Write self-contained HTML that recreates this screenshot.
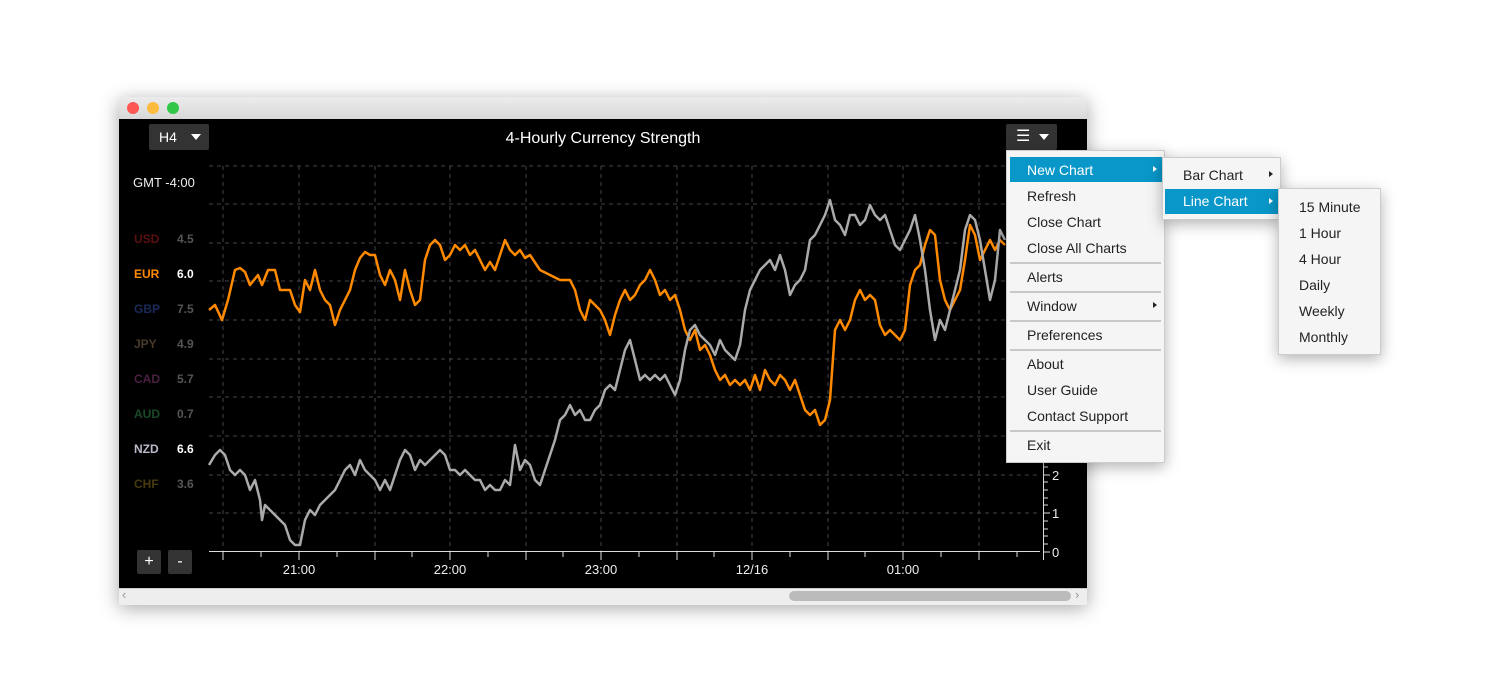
<!DOCTYPE html>
<html><head><meta charset="utf-8"><style>
body{margin:0;width:1500px;height:700px;background:#fff;position:relative;overflow:hidden;font-family:"Liberation Sans",sans-serif}
.a{position:absolute}
.win{left:119px;top:97px;width:968px;height:507px;box-shadow:0 4px 18px rgba(0,0,0,.35);background:#000}
.tb{left:0;top:0;width:968px;height:22px;background:linear-gradient(#ececec,#d8d8d8)}
.dot{width:12px;height:12px;border-radius:50%;top:5px}
.menu{background:#f5f5f5;border:1px solid #ccc;box-shadow:0 4px 14px rgba(0,0,0,.3);font-size:14px;color:#222}
.it{position:absolute;left:20px;height:26px;line-height:26px}
.sep{position:absolute;left:3px;right:3px;height:2px;background:#c8c8c8}
.hl{position:absolute;background:#0997c9;color:#fff}
</style></head><body>
<div class="a win">
 <div class="a tb"></div>
 <div class="a dot" style="left:8px;background:#fc5753"></div>
 <div class="a dot" style="left:28px;background:#fdbc40"></div>
 <div class="a dot" style="left:48px;background:#33c748"></div>
 <div class="a" style="left:0;top:491px;width:968px;height:16px;background:#eee;border-top:1px solid #ccc"></div>
 <div class="a" style="left:670px;top:494px;width:282px;height:10px;border-radius:5px;background:#bbb"></div>
 <div class="a" style="left:3px;top:490px;color:#999;font-size:13px">‹</div>
 <div class="a" style="left:956px;top:490px;color:#999;font-size:13px">›</div>
</div>
<svg class="a" style="left:0;top:0" width="1500" height="700">
 <g stroke="#444" stroke-dasharray="4,4" stroke-width="1">
  <line x1="209" x2="1040" y1="166" y2="166"/><line x1="209" x2="1040" y1="204" y2="204"/><line x1="209" x2="1040" y1="243" y2="243"/><line x1="209" x2="1040" y1="281" y2="281"/><line x1="209" x2="1040" y1="320" y2="320"/><line x1="209" x2="1040" y1="359" y2="359"/><line x1="209" x2="1040" y1="397" y2="397"/><line x1="209" x2="1040" y1="436" y2="436"/><line x1="209" x2="1040" y1="475" y2="475"/><line x1="209" x2="1040" y1="513" y2="513"/>
  <line x1="223" x2="223" y1="166" y2="552"/><line x1="299" x2="299" y1="166" y2="552"/><line x1="375" x2="375" y1="166" y2="552"/><line x1="450" x2="450" y1="166" y2="552"/><line x1="526" x2="526" y1="166" y2="552"/><line x1="601" x2="601" y1="166" y2="552"/><line x1="677" x2="677" y1="166" y2="552"/><line x1="752" x2="752" y1="166" y2="552"/><line x1="828" x2="828" y1="166" y2="552"/><line x1="903" x2="903" y1="166" y2="552"/><line x1="979" x2="979" y1="166" y2="552"/>
 </g>
 <g stroke="#ddd" stroke-width="1">
  <line x1="209" x2="1040" y1="551.5" y2="551.5"/>
  <line x1="223" x2="223" y1="552" y2="560"/><line x1="261" x2="261" y1="552" y2="557"/><line x1="299" x2="299" y1="552" y2="560"/><line x1="337" x2="337" y1="552" y2="557"/><line x1="375" x2="375" y1="552" y2="560"/><line x1="412" x2="412" y1="552" y2="557"/><line x1="450" x2="450" y1="552" y2="560"/><line x1="488" x2="488" y1="552" y2="557"/><line x1="526" x2="526" y1="552" y2="560"/><line x1="563" x2="563" y1="552" y2="557"/><line x1="601" x2="601" y1="552" y2="560"/><line x1="639" x2="639" y1="552" y2="557"/><line x1="677" x2="677" y1="552" y2="560"/><line x1="714" x2="714" y1="552" y2="557"/><line x1="752" x2="752" y1="552" y2="560"/><line x1="790" x2="790" y1="552" y2="557"/><line x1="828" x2="828" y1="552" y2="560"/><line x1="865" x2="865" y1="552" y2="557"/><line x1="903" x2="903" y1="552" y2="560"/><line x1="941" x2="941" y1="552" y2="557"/><line x1="979" x2="979" y1="552" y2="560"/><line x1="1017" x2="1017" y1="552" y2="557"/>
  <line x1="1043.5" x2="1043.5" y1="166" y2="560"/>
  <line x1="1043" x2="1050" y1="552" y2="552"/><line x1="1043" x2="1048" y1="544" y2="544"/><line x1="1043" x2="1048" y1="536" y2="536"/><line x1="1043" x2="1048" y1="529" y2="529"/><line x1="1043" x2="1048" y1="521" y2="521"/><line x1="1043" x2="1050" y1="513" y2="513"/><line x1="1043" x2="1048" y1="505" y2="505"/><line x1="1043" x2="1048" y1="498" y2="498"/><line x1="1043" x2="1048" y1="490" y2="490"/><line x1="1043" x2="1048" y1="482" y2="482"/><line x1="1043" x2="1050" y1="475" y2="475"/><line x1="1043" x2="1048" y1="467" y2="467"/>
 </g>
 <g fill="#eee" font-size="13" font-family="Liberation Sans,sans-serif">
  <text x="1052" y="557">0</text><text x="1052" y="518">1</text><text x="1052" y="480">2</text>
  <text x="299" y="574" text-anchor="middle">21:00</text><text x="450" y="574" text-anchor="middle">22:00</text><text x="601" y="574" text-anchor="middle">23:00</text><text x="752" y="574" text-anchor="middle">12/16</text><text x="903" y="574" text-anchor="middle">01:00</text>
  <text x="603" y="143" text-anchor="middle" font-size="16" fill="#fff">4-Hourly Currency Strength</text>
  <text x="133" y="187" font-size="13">GMT -4:00</text>
 </g>
 <polyline fill="none" stroke="#ff8a00" stroke-width="2.5" stroke-linejoin="round" points="209,310 215,305 222,320 228,300 235,270 240,268 245,272 250,285 258,275 262,285 268,270 275,270 280,290 290,290 295,305 300,312 305,280 310,290 315,270 320,290 325,300 330,305 335,325 340,310 345,300 350,290 355,270 360,258 365,252 370,255 375,255 380,275 385,285 390,270 395,280 400,300 405,270 410,290 415,305 420,300 425,260 430,245 435,240 440,245 445,260 450,255 455,245 460,250 465,245 470,255 475,250 480,260 485,270 490,262 495,270 500,255 505,240 510,250 515,255 520,250 525,258 530,255 540,270 550,275 560,280 570,280 575,290 580,310 585,320 590,300 595,305 600,310 605,320 610,335 615,315 620,300 625,290 630,300 635,295 640,285 645,280 650,270 655,280 660,295 665,290 670,300 675,295 680,310 685,330 690,340 695,330 700,350 705,345 710,355 715,370 720,380 725,375 730,385 735,380 740,385 745,380 750,390 755,375 760,390 765,370 770,380 775,385 780,375 785,380 790,390 795,380 800,395 805,410 810,415 815,410 820,425 825,420 830,400 835,330 840,320 845,330 850,320 855,300 860,290 865,300 870,295 875,300 880,325 885,335 890,330 895,335 900,340 905,330 910,285 915,270 920,265 925,245 930,230 935,235 940,280 945,300 950,310 955,300 960,290 965,260 970,225 975,235 980,260 985,250 990,240 995,250 1000,240 1005,245"/>
 <polyline fill="none" stroke="#aaa" stroke-width="2.5" stroke-linejoin="round" points="209,465 215,455 220,450 225,455 230,470 235,475 240,470 245,475 250,490 255,480 260,500 262,520 265,505 270,510 275,515 280,520 285,525 290,540 295,545 300,545 305,520 310,510 315,515 320,505 325,500 330,495 335,490 340,480 345,470 350,465 355,475 360,460 365,470 370,475 375,480 380,490 385,480 390,490 395,475 400,460 405,450 410,455 415,470 420,460 425,465 430,460 435,455 440,450 445,455 450,470 455,470 460,475 465,470 470,475 475,480 480,480 485,490 490,485 495,490 500,490 505,480 510,485 515,445 520,470 525,460 530,465 535,480 540,485 545,470 550,455 555,440 560,420 565,415 570,405 575,415 580,410 585,420 590,420 595,410 600,405 605,390 610,385 615,390 620,370 625,350 630,340 635,360 640,380 645,375 650,380 655,375 660,380 665,375 670,385 675,395 680,380 685,350 690,330 695,325 700,335 705,340 710,345 715,355 720,340 725,350 730,355 735,360 740,345 745,310 750,290 755,280 760,270 765,265 770,260 775,270 780,255 785,270 790,295 795,285 800,280 805,270 810,240 815,235 820,225 825,215 830,200 835,220 840,225 845,235 850,215 855,215 860,225 865,220 870,205 875,215 880,220 885,215 890,230 895,245 900,250 905,240 910,230 915,215 920,240 925,270 930,310 935,340 940,320 945,330 950,310 955,290 960,270 965,230 970,215 975,220 980,240 985,270 990,300 995,280 1000,230 1005,240"/>
 <g font-size="12" font-weight="bold" font-family="Liberation Sans,sans-serif">
  <text x="134" y="243" fill="#5a1010">USD</text><text x="177" y="243" fill="#555">4.5</text>
  <text x="134" y="278" fill="#ff8a00">EUR</text><text x="177" y="278" fill="#fff">6.0</text>
  <text x="134" y="313" fill="#1c2a5a">GBP</text><text x="177" y="313" fill="#555">7.5</text>
  <text x="134" y="348" fill="#4a3a2a">JPY</text><text x="177" y="348" fill="#555">4.9</text>
  <text x="134" y="383" fill="#4a2040">CAD</text><text x="177" y="383" fill="#555">5.7</text>
  <text x="134" y="418" fill="#1a4a2a">AUD</text><text x="177" y="418" fill="#555">0.7</text>
  <text x="134" y="453" fill="#bbc">NZD</text><text x="177" y="453" fill="#fff">6.6</text>
  <text x="134" y="488" fill="#4a3a10">CHF</text><text x="177" y="488" fill="#555">3.6</text>
 </g>
</svg>
<div class="a" style="left:149px;top:124px;width:60px;height:26px;background:#333;border-radius:2px;color:#fff;font-size:14px;line-height:26px"><span style="margin-left:10px">H4</span><span style="position:absolute;left:42px;top:10px;border:5px solid transparent;border-top:6px solid #fff;border-bottom:0"></span></div>
<div class="a" style="left:1006px;top:124px;width:51px;height:26px;background:#333;border-radius:2px;color:#fff;font-size:16px;line-height:26px"><span style="margin-left:10px">☰</span><span style="position:absolute;left:33px;top:10px;border:5px solid transparent;border-top:6px solid #fff;border-bottom:0"></span></div>
<div class="a" style="left:137px;top:550px;width:24px;height:24px;background:#333;border-radius:2px;color:#fff;text-align:center;line-height:24px;font-size:16px">+</div>
<div class="a" style="left:168px;top:550px;width:24px;height:24px;background:#333;border-radius:2px;color:#fff;text-align:center;line-height:24px;font-size:16px">-</div>

<div class="a menu" style="left:1006px;top:150px;width:157px;height:311px">
 <div class="hl" style="left:3px;top:6px;width:152px;height:25px"></div>
 <div class="it" style="top:6px;color:#fff">New Chart</div><div class="a" style="left:146px;top:15px;border:3px solid transparent;border-left:4px solid #fff;border-right:0"></div>
 <div class="it" style="top:32px">Refresh</div>
 <div class="it" style="top:58px">Close Chart</div>
 <div class="it" style="top:84px">Close All Charts</div>
 <div class="sep" style="top:111px"></div>
 <div class="it" style="top:113px">Alerts</div>
 <div class="sep" style="top:140px"></div>
 <div class="it" style="top:142px">Window</div><div class="a" style="left:146px;top:151px;border:3px solid transparent;border-left:4px solid #222;border-right:0"></div>
 <div class="sep" style="top:169px"></div>
 <div class="it" style="top:171px">Preferences</div>
 <div class="sep" style="top:198px"></div>
 <div class="it" style="top:200px">About</div>
 <div class="it" style="top:226px">User Guide</div>
 <div class="it" style="top:252px">Contact Support</div>
 <div class="sep" style="top:279px"></div>
 <div class="it" style="top:281px">Exit</div>
</div>
<div class="a menu" style="left:1162px;top:157px;width:117px;height:61px">
 <div class="hl" style="left:2px;top:31px;width:113px;height:25px"></div>
 <div class="it" style="top:4px">Bar Chart</div><div class="a" style="left:106px;top:13px;border:3px solid transparent;border-left:4px solid #222;border-right:0"></div>
 <div class="it" style="top:30px;color:#fff">Line Chart</div><div class="a" style="left:106px;top:40px;border:3px solid transparent;border-left:4px solid #fff;border-right:0"></div>
</div>
<div class="a menu" style="left:1278px;top:188px;width:101px;height:165px">
 <div class="it" style="top:5px">15 Minute</div>
 <div class="it" style="top:31px">1 Hour</div>
 <div class="it" style="top:57px">4 Hour</div>
 <div class="it" style="top:83px">Daily</div>
 <div class="it" style="top:109px">Weekly</div>
 <div class="it" style="top:135px">Monthly</div>
</div>
</body></html>
